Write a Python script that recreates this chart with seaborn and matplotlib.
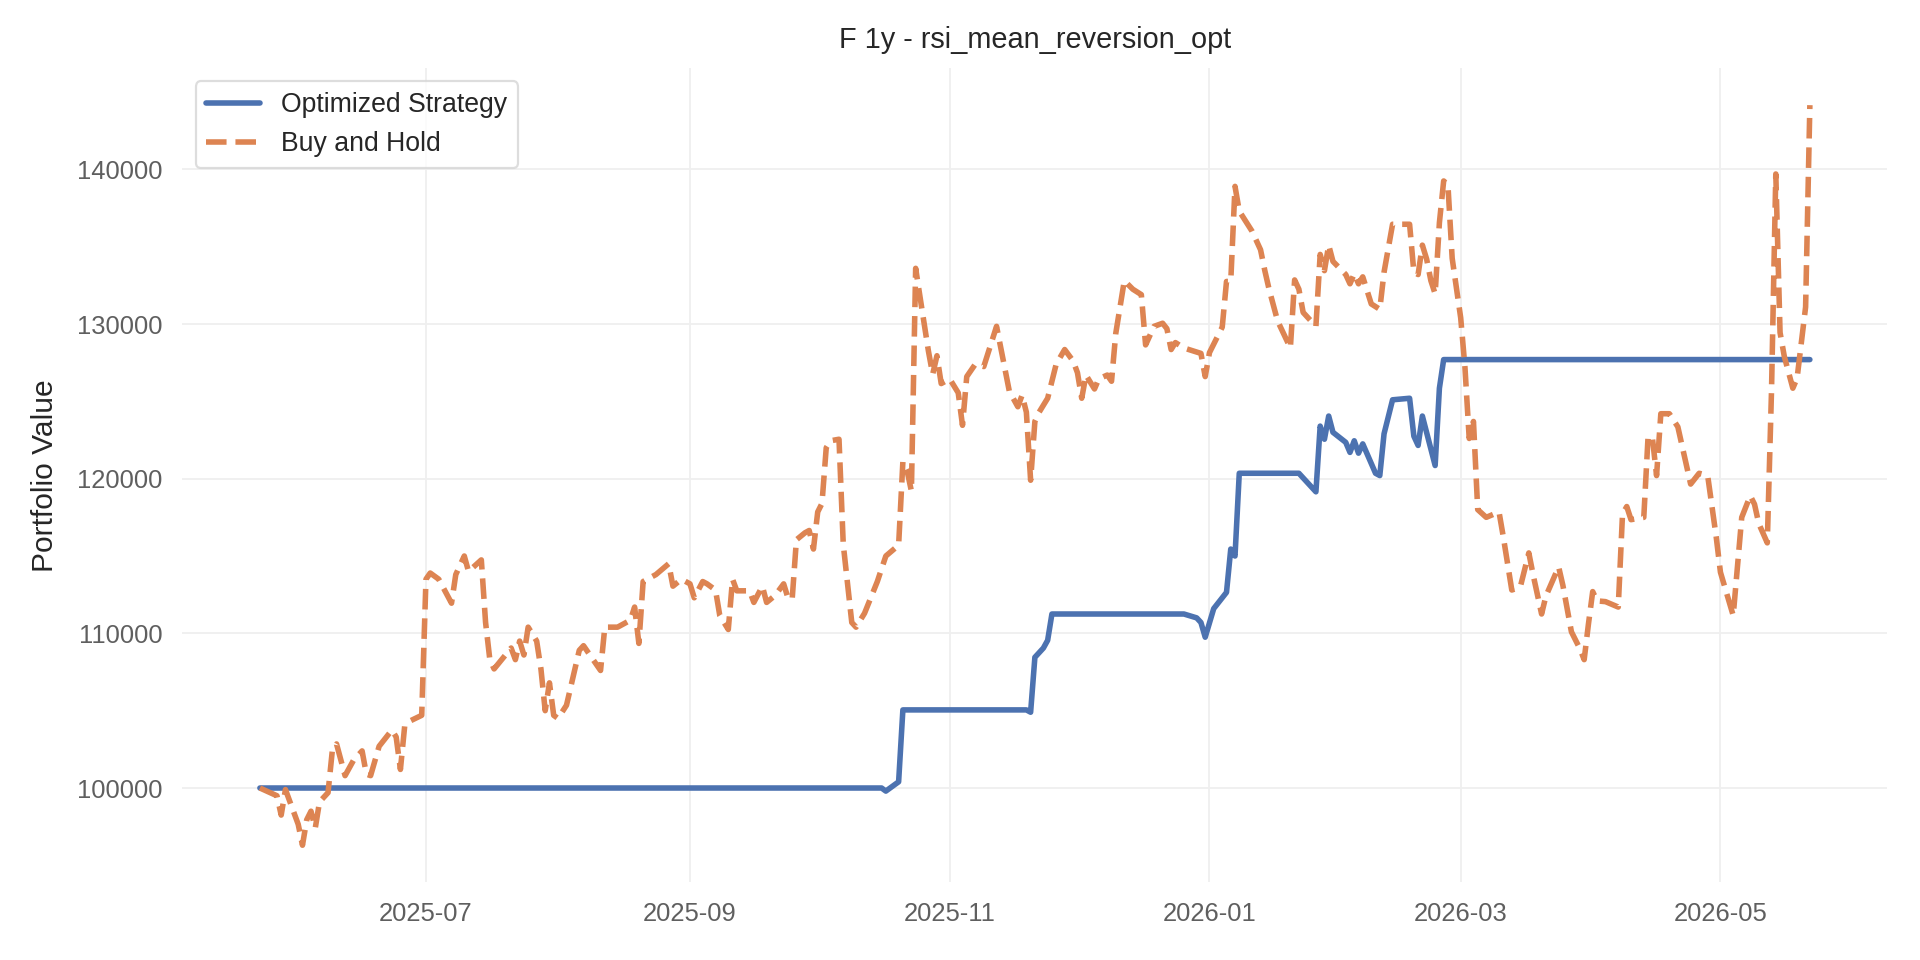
import pandas as pd
import matplotlib
matplotlib.use("Agg")
import matplotlib.pyplot as plt
import matplotlib.dates as mdates
from matplotlib.ticker import FuncFormatter
import seaborn as sns

# ---- data ----
bh_dates = [
    "2025-05-23", "2025-05-27", "2025-05-28", "2025-05-29", "2025-06-01", "2025-06-02", "2025-06-03",
    "2025-06-04", "2025-06-05", "2025-06-06", "2025-06-08", "2025-06-09", "2025-06-10", "2025-06-12",
    "2025-06-14", "2025-06-16", "2025-06-17", "2025-06-18", "2025-06-20", "2025-06-23", "2025-06-24",
    "2025-06-25", "2025-06-26", "2025-06-27", "2025-06-30", "2025-07-01", "2025-07-02", "2025-07-04",
    "2025-07-07", "2025-07-08", "2025-07-10", "2025-07-11", "2025-07-14", "2025-07-15", "2025-07-16",
    "2025-07-17", "2025-07-21", "2025-07-22", "2025-07-23", "2025-07-24", "2025-07-25", "2025-07-27",
    "2025-07-28", "2025-07-29", "2025-07-30", "2025-07-31", "2025-08-01", "2025-08-03", "2025-08-05",
    "2025-08-06", "2025-08-07", "2025-08-11", "2025-08-12", "2025-08-15", "2025-08-18", "2025-08-19",
    "2025-08-20", "2025-08-21", "2025-08-24", "2025-08-27", "2025-08-28", "2025-08-30", "2025-09-01",
    "2025-09-02", "2025-09-04", "2025-09-05", "2025-09-07", "2025-09-08", "2025-09-10", "2025-09-11",
    "2025-09-12", "2025-09-15", "2025-09-16", "2025-09-18", "2025-09-19", "2025-09-21", "2025-09-23",
    "2025-09-24", "2025-09-25", "2025-09-26", "2025-09-28", "2025-09-29", "2025-09-30", "2025-10-01",
    "2025-10-02", "2025-10-03", "2025-10-04", "2025-10-06", "2025-10-07", "2025-10-09", "2025-10-10",
    "2025-10-12", "2025-10-15", "2025-10-17", "2025-10-20", "2025-10-21", "2025-10-22", "2025-10-23",
    "2025-10-24", "2025-10-25", "2025-10-27", "2025-10-28", "2025-10-29", "2025-10-30", "2025-11-01",
    "2025-11-03", "2025-11-04", "2025-11-05", "2025-11-07", "2025-11-09", "2025-11-12", "2025-11-13",
    "2025-11-15", "2025-11-17", "2025-11-18", "2025-11-19", "2025-11-20", "2025-11-21", "2025-11-22",
    "2025-11-24", "2025-11-26", "2025-11-28", "2025-11-30", "2025-12-01", "2025-12-02", "2025-12-03",
    "2025-12-05", "2025-12-06", "2025-12-08", "2025-12-09", "2025-12-10", "2025-12-12", "2025-12-14",
    "2025-12-16", "2025-12-17", "2025-12-19", "2025-12-21", "2025-12-22", "2025-12-23", "2025-12-24",
    "2025-12-26", "2025-12-30", "2025-12-31", "2026-01-01", "2026-01-04", "2026-01-05", "2026-01-06",
    "2026-01-07", "2026-01-08", "2026-01-11", "2026-01-13", "2026-01-14", "2026-01-15", "2026-01-17",
    "2026-01-20", "2026-01-21", "2026-01-22", "2026-01-23", "2026-01-26", "2026-01-27", "2026-01-28",
    "2026-01-29", "2026-01-30", "2026-02-02", "2026-02-03", "2026-02-04", "2026-02-05", "2026-02-06",
    "2026-02-08", "2026-02-10", "2026-02-11", "2026-02-13", "2026-02-17", "2026-02-18", "2026-02-19",
    "2026-02-20", "2026-02-21", "2026-02-22", "2026-02-23", "2026-02-24", "2026-02-25", "2026-02-26",
    "2026-02-27", "2026-03-01", "2026-03-02", "2026-03-03", "2026-03-04", "2026-03-05", "2026-03-07",
    "2026-03-10", "2026-03-11", "2026-03-13", "2026-03-15", "2026-03-17", "2026-03-18", "2026-03-20",
    "2026-03-21", "2026-03-24", "2026-03-25", "2026-03-27", "2026-03-29", "2026-03-30", "2026-03-31",
    "2026-04-01", "2026-04-02", "2026-04-04", "2026-04-07", "2026-04-08", "2026-04-09", "2026-04-10",
    "2026-04-13", "2026-04-14", "2026-04-15", "2026-04-16", "2026-04-17", "2026-04-19", "2026-04-21",
    "2026-04-24", "2026-04-26", "2026-04-28", "2026-04-30", "2026-05-01", "2026-05-04", "2026-05-06",
    "2026-05-08", "2026-05-09", "2026-05-10", "2026-05-12", "2026-05-13", "2026-05-14", "2026-05-15",
    "2026-05-16", "2026-05-18", "2026-05-19", "2026-05-21", "2026-05-22",
]
bh_values = [
    100000, 99500, 98250, 99900, 97650, 96300, 97950,
    98500, 97400, 99100, 99700, 102400, 102850, 100800,
    101800, 102400, 100900, 100800, 102700, 103750, 103300,
    101200, 104000, 104300, 104700, 113500, 113900, 113500,
    111950, 113800, 115000, 114000, 114750, 110700, 108300,
    107700, 109050, 108300, 109500, 108600, 110400, 109500,
    107700, 105000, 106800, 104700, 104500, 105350, 107700,
    108900, 109200, 107600, 110400, 110400, 110850, 111700,
    109350, 113350, 113800, 114500, 113050, 113500, 113200,
    112300, 113350, 113200, 112800, 111150, 110250, 113500,
    112750, 112750, 112000, 113050, 112000, 112450, 113200,
    112300, 112200, 116050, 116500, 116650, 115450, 117850,
    118400, 122000, 122450, 122550, 115750, 110700, 110400,
    111300, 113350, 115000, 115700, 121100, 120500, 119200,
    133600, 131800, 128250, 126750, 127950, 126150, 126450,
    125550, 123450, 126600, 127400, 127250, 129850, 128450,
    125650, 124650, 125400, 124300, 119900, 123700, 124300,
    125200, 127400, 128350, 127600, 126850, 125200, 126700,
    125800, 126450, 126700, 126300, 129400, 132800, 132250,
    131900, 128650, 129850, 130050, 129700, 128350, 128800,
    128450, 128100, 126600, 128150, 129800, 132750, 132750,
    138900, 137300, 136000, 134800, 133450, 132250, 130200,
    128450, 132850, 132250, 130750, 129850, 134500, 133450,
    135100, 134050, 133200, 132600, 133250, 132600, 133050,
    131300, 130950, 133350, 136450, 136450, 133350, 133200,
    135100, 134200, 132800, 131950, 136550, 139250, 139000,
    134250, 130400, 127200, 122600, 123700, 118000, 117500,
    117850, 116250, 112800, 113000, 115200, 113800, 111250,
    112400, 114300, 113100, 110100, 109000, 108300, 110600,
    112700, 112100, 112050, 111700, 117700, 118200, 117350,
    117500, 122700, 122700, 120200, 124200, 124200, 123350,
    119650, 120350, 120200, 116250, 113950, 111150, 117500,
    118900, 118350, 117100, 115850, 125750, 139700, 129450,
    127900, 125850, 126500, 131100, 144150,
]

strategy_dates = [
    "2025-05-23", "2025-10-16", "2025-10-17", "2025-10-20", "2025-10-21", "2025-11-19", "2025-11-20",
    "2025-11-21", "2025-11-23", "2025-11-24", "2025-11-25", "2025-12-26", "2025-12-29", "2025-12-30",
    "2025-12-31", "2026-01-02", "2026-01-05", "2026-01-06", "2026-01-07", "2026-01-08", "2026-01-22",
    "2026-01-23", "2026-01-26", "2026-01-27", "2026-01-28", "2026-01-29", "2026-01-30", "2026-02-02",
    "2026-02-03", "2026-02-04", "2026-02-05", "2026-02-06", "2026-02-09", "2026-02-10", "2026-02-11",
    "2026-02-13", "2026-02-17", "2026-02-18", "2026-02-19", "2026-02-20", "2026-02-23", "2026-02-24",
    "2026-02-25", "2026-05-22",
]
strategy_values = [
    100000, 100000, 99800, 100400, 105050, 105050, 104900,
    108450, 109050, 109550, 111250, 111250, 111000, 110700,
    109750, 111600, 112650, 115450, 115000, 120350, 120350,
    120050, 119150, 123400, 122550, 124050, 123000, 122350,
    121700, 122450, 121650, 122250, 120350, 120200, 122900,
    125100, 125200, 122750, 122150, 124050, 120850, 125850,
    127700, 127700,
]

series_names = ["Optimized Strategy", "Buy and Hold"]
title_text = "F 1y - rsi_mean_reversion_opt"
y_label = "Portfolio Value"

# ---- styling ----
sns.set_theme(style="whitegrid")
plt.rcParams["font.family"] = ["Liberation Sans", "DejaVu Sans"]
palette = sns.color_palette("deep")

strat_df = pd.DataFrame({"Date": pd.to_datetime(strategy_dates), "Value": strategy_values})
bh_df = pd.DataFrame({"Date": pd.to_datetime(bh_dates), "Value": bh_values})

fig, ax = plt.subplots(figsize=(12, 6), dpi=160)
fig.subplots_adjust(left=0.095, right=0.983, top=0.929, bottom=0.081)

sns.lineplot(data=strat_df, x="Date", y="Value", ax=ax, color=palette[0],
             linewidth=2.5, label=series_names[0])
sns.lineplot(data=bh_df, x="Date", y="Value", ax=ax, color=palette[1],
             linewidth=2.5, linestyle="--", label=series_names[1])

ax.set_title(title_text, fontsize=13, color="#262626", pad=9)
ax.set_xlabel("")
ax.set_ylabel(y_label, fontsize=13.5, color="#262626", labelpad=8)

ax.xaxis.set_major_locator(mdates.MonthLocator(bymonth=[1, 3, 5, 7, 9, 11]))
ax.xaxis.set_major_formatter(mdates.DateFormatter("%Y-%m"))
ax.yaxis.set_major_formatter(FuncFormatter(lambda v, p: f"{int(round(v))}"))

ax.tick_params(axis="both", labelsize=11.5, colors="#5f5f5f", length=0, pad=9)
ax.grid(True, color="#efefef", linewidth=0.8)
for s in ax.spines.values():
    s.set_visible(False)

leg = ax.legend(loc="upper left", fontsize=12, frameon=True)
leg.get_frame().set_edgecolor("#d5d5d5")
for t in leg.get_texts():
    t.set_color("#262626")

fig.savefig("out.png", dpi=160)
